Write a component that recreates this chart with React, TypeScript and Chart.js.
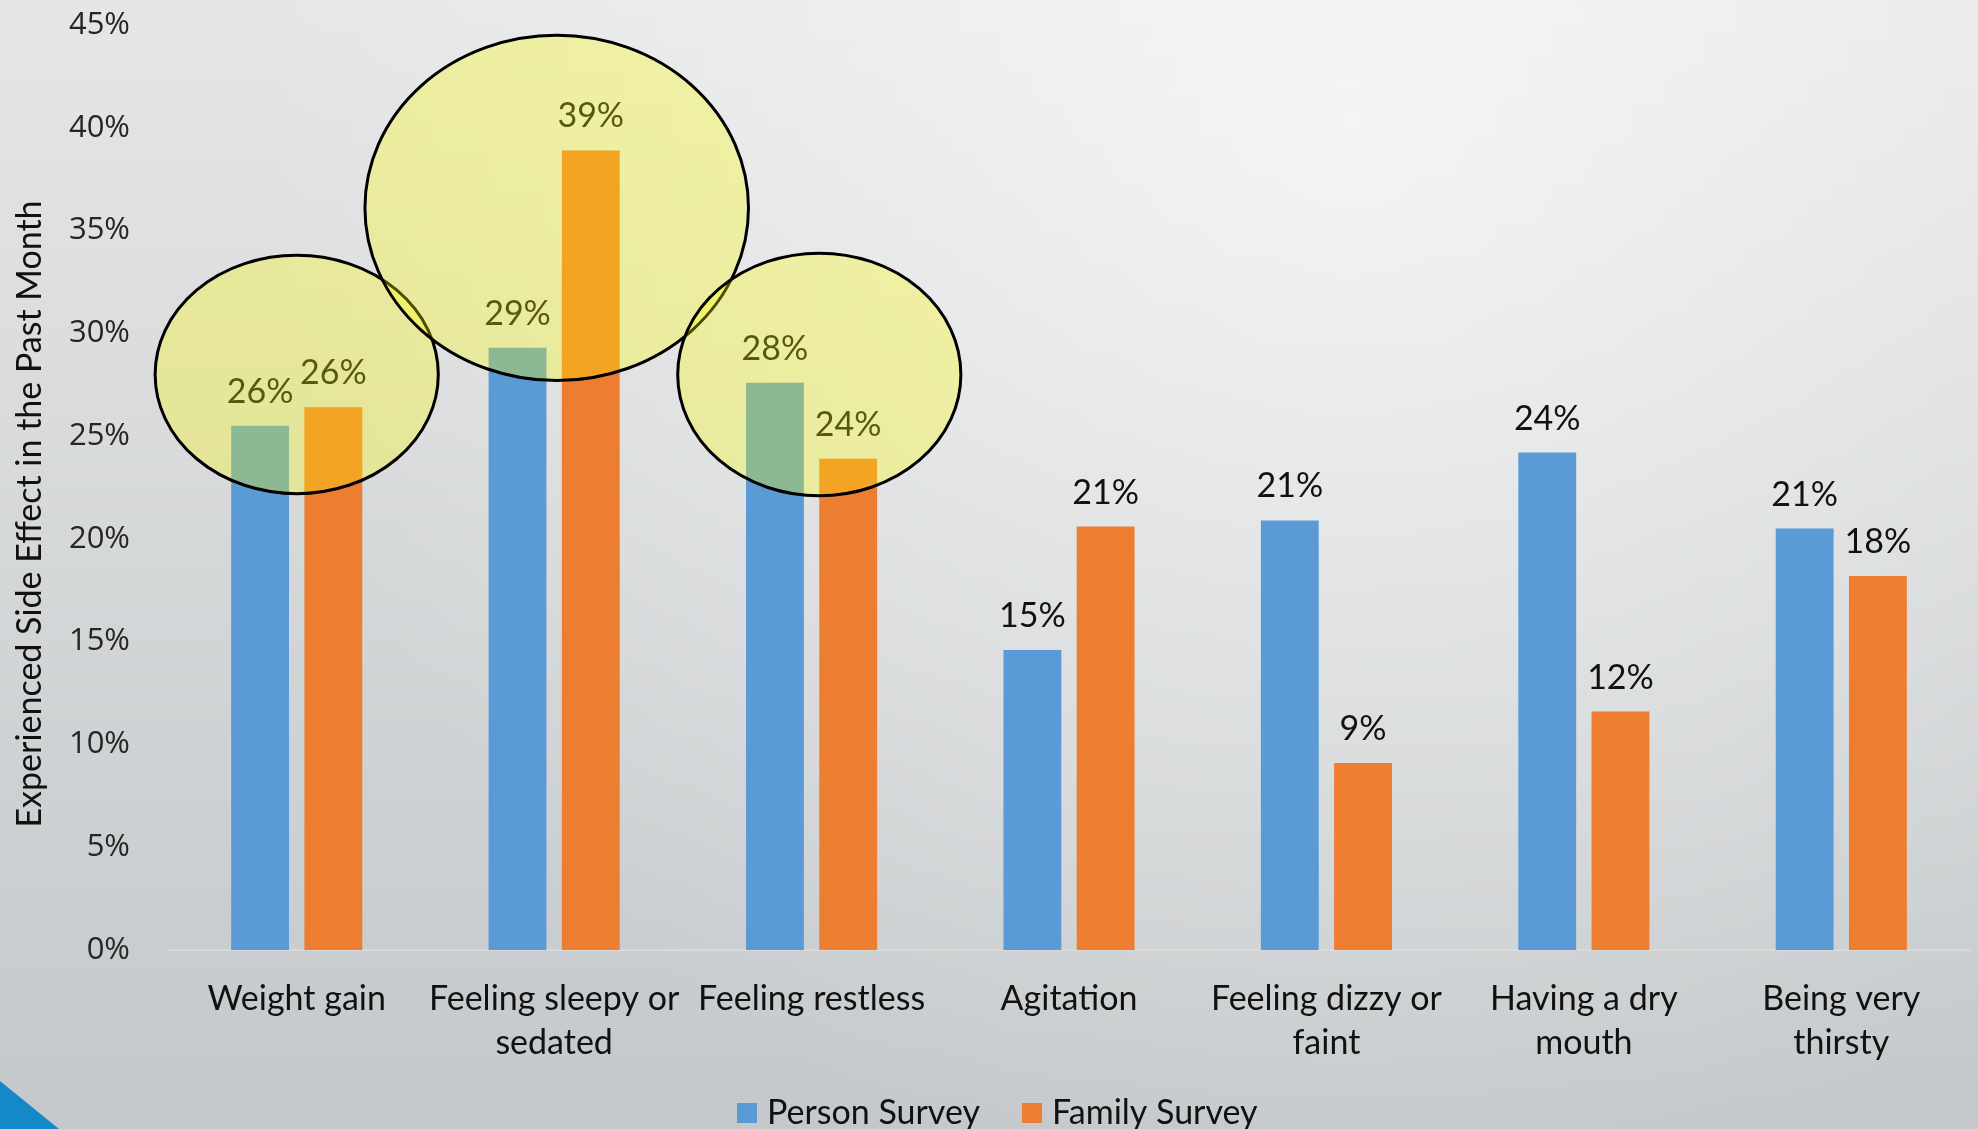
import { useEffect, useRef } from 'react';
import { Chart, registerables } from 'chart.js';

Chart.register(...registerables);

// ---------- data ----------
const categories: string[][] = [
  ['Weight gain'],
  ['Feeling sleepy or', 'sedated'],
  ['Feeling restless'],
  ['Agitation'],
  ['Feeling dizzy or', 'faint'],
  ['Having a dry', 'mouth'],
  ['Being very', 'thirsty'],
];
const personSurvey = [25.5, 29.3, 27.6, 14.6, 20.9, 24.2, 20.5];
const familySurvey = [26.4, 38.9, 23.9, 20.6, 9.1, 11.6, 18.2];
const seriesNames = ['Person Survey', 'Family Survey'];
const seriesColors = ['#5B9BD5', '#ED7D31'];
const yMin = 0;
const yMax = 45;
const yStep = 5;
const yTitle = 'Experienced Side Effect in the Past Month';

// highlighted groups: category index, x shift (in categories), centre value, radii (categories / value units)
const highlightIndex = [0, 1, 2];
const highlightShift = [0, 0.01, 0.03];
const highlightCenter = [28.0, 36.1, 28.0];
const highlightRx = [0.55, 0.745, 0.55];
const highlightRy = [5.8, 8.4, 5.9];

const W = 1978;
const H = 1129;

const backgroundPlugin = {
  id: 'bgPlugin',
  beforeDraw(chart: any) {
    const { ctx, width, height } = chart;
    ctx.save();
    const lin = ctx.createLinearGradient(0, 0, 0, height);
    lin.addColorStop(0, '#E5E6E7');
    lin.addColorStop(1, '#C4C8CA');
    ctx.fillStyle = lin;
    ctx.fillRect(0, 0, width, height);
    const rad = ctx.createRadialGradient(1350, 120, 0, 1350, 120, 1100);
    rad.addColorStop(0, 'rgba(255,255,255,0.6)');
    rad.addColorStop(1, 'rgba(255,255,255,0)');
    ctx.fillStyle = rad;
    ctx.fillRect(0, 0, width, height);
    // decorative corner triangle
    ctx.fillStyle = '#1589C8';
    ctx.beginPath();
    ctx.moveTo(0, height - 48);
    ctx.lineTo(59, height);
    ctx.lineTo(0, height);
    ctx.closePath();
    ctx.fill();
    ctx.restore();
  },
};

const labelsPlugin = {
  id: 'valueLabels',
  afterDatasetsDraw(chart: any) {
    const { ctx } = chart;
    ctx.save();
    ctx.font = '34px Lato';
    ctx.fillStyle = '#111111';
    ctx.textAlign = 'center';
    ctx.textBaseline = 'alphabetic';
    chart.data.datasets.forEach((ds: any, di: number) => {
      const meta = chart.getDatasetMeta(di);
      meta.data.forEach((bar: any, i: number) => {
        const v = ds.data[i];
        ctx.fillText(Math.round(v) + '%', bar.x, bar.y - 23);
      });
    });
    ctx.restore();
  },
};

const overlayPlugin = {
  id: 'overlay',
  afterDraw(chart: any) {
    const { ctx, chartArea } = chart;
    const xs = chart.scales.x;
    const ys = chart.scales.y;
    const catW = xs.width / chart.data.labels.length;
    ctx.save();
    // highlight ellipses
    highlightIndex.forEach((idx, k) => {
      const cx = xs.getPixelForValue(idx) + highlightShift[k] * catW;
      const cy = ys.getPixelForValue(highlightCenter[k]);
      const rx = highlightRx[k] * catW;
      const ry = ys.getPixelForValue(0) - ys.getPixelForValue(highlightRy[k]);
      ctx.beginPath();
      ctx.ellipse(cx, cy, rx, ry, 0, 0, Math.PI * 2);
      ctx.fillStyle = 'rgba(255,255,0,0.3)';
      ctx.fill();
      ctx.lineWidth = 3;
      ctx.strokeStyle = '#000000';
      ctx.stroke();
    });
    // y axis title
    ctx.save();
    ctx.translate(30, chartArea.bottom - 436);
    ctx.rotate(-Math.PI / 2);
    ctx.font = '34px Lato';
    ctx.fillStyle = '#111111';
    ctx.textAlign = 'center';
    ctx.textBaseline = 'middle';
    ctx.fillText(yTitle, 0, 0);
    ctx.restore();
    // legend
    ctx.font = '34px Lato';
    ctx.textAlign = 'left';
    ctx.textBaseline = 'middle';
    let x = 737;
    const yC = 1113;
    chart.data.datasets.forEach((ds: any) => {
      ctx.fillStyle = ds.backgroundColor;
      ctx.fillRect(x, yC - 10, 20, 20);
      ctx.fillStyle = '#111111';
      ctx.fillText(ds.label, x + 30, yC);
      x += 30 + ctx.measureText(ds.label).width + 42;
    });
    ctx.restore();
  },
};

export default function App() {
  const ref = useRef<HTMLCanvasElement | null>(null);
  useEffect(() => {
    document.body.style.margin = '0';
    const canvas = ref.current;
    if (!canvas) return;
    const chart = new Chart(canvas, {
      type: 'bar',
      data: {
        labels: categories,
        datasets: [
          {
            label: seriesNames[0],
            data: personSurvey,
            backgroundColor: seriesColors[0],
            categoryPercentage: 0.569,
            barPercentage: 0.79,
          },
          {
            label: seriesNames[1],
            data: familySurvey,
            backgroundColor: seriesColors[1],
            categoryPercentage: 0.569,
            barPercentage: 0.79,
          },
        ],
      },
      options: {
        responsive: false,
        animation: false,
        layout: { padding: { top: 25, right: 8, left: 0, bottom: 0 } },
        plugins: {
          legend: { display: false },
          tooltip: { enabled: false },
        },
        scales: {
          x: {
            grid: { display: false },
            border: { display: true, color: '#D9D9D9', width: 2 },
            ticks: {
              font: { family: 'Lato', size: 34, lineHeight: 1.3 },
              color: '#111111',
              padding: 19,
              maxRotation: 0,
              autoSkip: false,
            },
            afterFit: (s: any) => {
              s.height = 179;
              s.paddingLeft = 0;
              s.paddingRight = 0;
            },
          },
          y: {
            min: yMin,
            max: yMax,
            grid: { display: false },
            border: { display: false },
            ticks: {
              stepSize: yStep,
              font: { family: 'Open Sans', size: 31 },
              color: '#262626',
              padding: 30,
              callback: (v: any) => v + '%',
            },
            afterFit: (s: any) => {
              s.width = 168;
              s.paddingTop = 0;
              s.paddingBottom = 0;
            },
          },
        },
      },
      plugins: [backgroundPlugin, labelsPlugin, overlayPlugin],
    });
    return () => chart.destroy();
  }, []);
  return (
    <div style={{ width: W, height: H }}>
      <canvas ref={ref} width={W} height={H} style={{ display: 'block' }} />
    </div>
  );
}
